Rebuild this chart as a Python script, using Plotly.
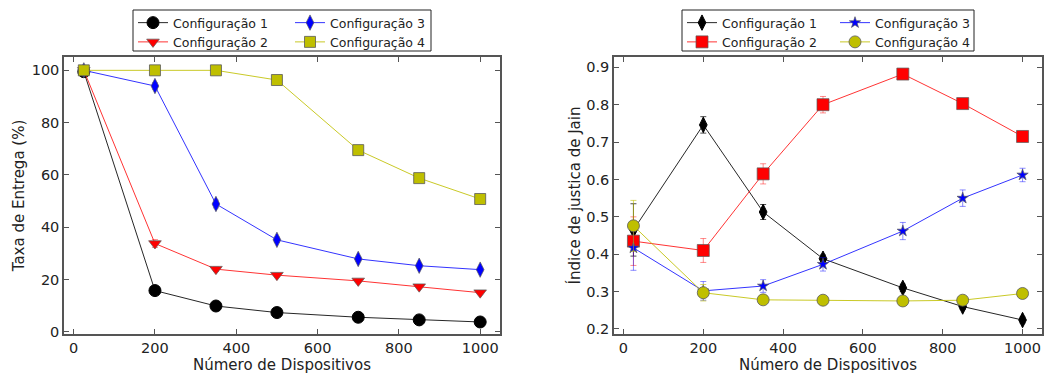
import plotly.graph_objects as go

# ---------------- data ----------------
devices = [25, 200, 350, 500, 700, 850, 1000]
series_names = ["Configuração 1", "Configuração 2", "Configuração 3", "Configuração 4"]

# Left: Taxa de Entrega (%)
taxa_c1 = [99.5, 15.8, 9.9, 7.4, 5.6, 4.6, 3.8]
taxa_c2 = [100.0, 33.8, 24.0, 21.7, 19.5, 17.3, 15.0]
taxa_c3 = [100.0, 94.0, 48.9, 35.2, 27.9, 25.3, 23.8]
taxa_c4 = [100.0, 100.0, 100.0, 96.3, 69.5, 58.8, 50.8]
taxa_err_c1 = [0.4, 0.6, 0.4, 0.3, 0.3, 0.2, 0.2]
taxa_err_c2 = [0.3, 1.5, 0.8, 0.6, 0.6, 0.5, 0.5]
taxa_err_c3 = [0.3, 1.2, 1.5, 1.0, 0.8, 0.7, 0.6]
taxa_err_c4 = [0.2, 0.2, 0.2, 0.5, 0.6, 0.5, 0.5]

# Right: Índice de justica de Jain
jain_c1 = [0.465, 0.746, 0.513, 0.388, 0.310, 0.260, 0.224]
jain_c2 = [0.435, 0.410, 0.615, 0.800, 0.882, 0.803, 0.715]
jain_c3 = [0.417, 0.302, 0.315, 0.373, 0.462, 0.550, 0.612]
jain_c4 = [0.476, 0.297, 0.278, 0.277, 0.275, 0.277, 0.295]
jain_err_c1 = [0.070, 0.022, 0.020, 0.010, 0.010, 0.008, 0.008]
jain_err_c2 = [0.065, 0.032, 0.027, 0.022, 0.008, 0.007, 0.008]
jain_err_c3 = [0.060, 0.025, 0.017, 0.018, 0.023, 0.022, 0.018]
jain_err_c4 = [0.068, 0.022, 0.010, 0.008, 0.006, 0.006, 0.006]

# ---------------- styles ----------------
W, H = 1052, 374
colors = ["#000000", "#FF0000", "#0000FF", "#BFBF00"]
line_colors = ["rgba(0,0,0,0.85)", "rgba(255,0,0,0.8)", "rgba(0,0,255,0.8)", "rgba(191,191,0,0.85)"]
err_colors = ["rgba(0,0,0,0.7)", "rgba(255,0,0,0.45)", "rgba(0,0,255,0.45)", "rgba(191,191,0,0.6)"]
edge_colors = ["#000000", "rgba(90,90,90,0.7)", "rgba(90,90,90,0.7)", "rgba(90,90,90,0.8)"]
FONT = "DejaVu Sans"

left_symbols = ["circle", "triangle-down", "diamond-tall", "square"]
left_sizes = [12, 11, 11, 11]
right_symbols = ["diamond-tall", "square", "star", "circle"]
right_sizes = [11, 12, 8.5, 12]

fig = go.Figure()

left_data = [(taxa_c1, taxa_err_c1), (taxa_c2, taxa_err_c2), (taxa_c3, taxa_err_c3), (taxa_c4, taxa_err_c4)]
right_data = [(jain_c1, jain_err_c1), (jain_c2, jain_err_c2), (jain_c3, jain_err_c3), (jain_c4, jain_err_c4)]

left_legends = ["legend", "legend", "legend2", "legend2"]
right_legends = ["legend3", "legend3", "legend4", "legend4"]

for i, (vals, errs) in enumerate(left_data):
    fig.add_trace(go.Scatter(
        x=devices, y=vals, name=series_names[i], mode="lines+markers",
        line=dict(color=line_colors[i], width=1),
        marker=dict(symbol=left_symbols[i], size=left_sizes[i], color=colors[i],
                    line=dict(color=edge_colors[i], width=1)),
        error_y=dict(type="data", array=errs, visible=True, color=err_colors[i], thickness=1, width=3),
        xaxis="x", yaxis="y", legend=left_legends[i],
    ))

for i, (vals, errs) in enumerate(right_data):
    fig.add_trace(go.Scatter(
        x=devices, y=vals, name=series_names[i], mode="lines+markers",
        line=dict(color=line_colors[i], width=1),
        marker=dict(symbol=right_symbols[i], size=right_sizes[i], color=colors[i],
                    line=dict(color=edge_colors[i], width=1)),
        error_y=dict(type="data", array=errs, visible=True, color=err_colors[i], thickness=1, width=3),
        xaxis="x2", yaxis="y2", legend=right_legends[i],
    ))

def px_x(p):
    return p / W

def px_y(p):
    return 1 - p / H

ydom = [px_y(334), px_y(57)]
axis_common = dict(
    showgrid=False, zeroline=False, showline=True, linecolor="#555555", linewidth=1.5,
    mirror="ticks", ticks="inside", ticklen=5, tickcolor="#555555", tickwidth=1,
    tickfont=dict(family=FONT, size=14.5, color="#222222"), automargin=False,
)
title_font = dict(family=FONT, size=15, color="#222222")

legend_common = dict(
    bgcolor="rgba(0,0,0,0)", borderwidth=0, font=dict(family=FONT, size=12.5, color="#222222"),
    xanchor="left", yanchor="top", y=px_y(8), tracegroupgap=0, orientation="v",
)

fig.update_layout(
    width=W, height=H, autosize=False, template="none",
    margin=dict(l=0, r=0, t=0, b=0, pad=0),
    paper_bgcolor="white", plot_bgcolor="white",
    xaxis=dict(domain=[px_x(64), px_x(500)], range=[-23.75, 1048.75], tickvals=[0, 200, 400, 600, 800, 1000],
               anchor="y", title=dict(text="Número de Dispositivos", font=title_font, standoff=4), **axis_common),
    yaxis=dict(domain=ydom, range=[-0.8, 105.1], tickvals=[0, 20, 40, 60, 80, 100], anchor="x",
               title=dict(text="Taxa de Entrega (%)", font=title_font, standoff=3), **axis_common),
    xaxis2=dict(domain=[px_x(614), px_x(1042)], range=[-23.75, 1048.75], tickvals=[0, 200, 400, 600, 800, 1000],
                anchor="y2", title=dict(text="Número de Dispositivos", font=title_font, standoff=4), **axis_common),
    yaxis2=dict(domain=ydom, range=[0.1866, 0.9276], tickvals=[0.2, 0.3, 0.4, 0.5, 0.6, 0.7, 0.8, 0.9],
                tickformat=".1f", anchor="x2",
                title=dict(text="Índice de justica de Jain", font=title_font, standoff=2), **axis_common),
    legend=dict(x=px_x(133), **legend_common),
    legend2=dict(x=px_x(290), **legend_common),
    legend3=dict(x=px_x(682), **legend_common),
    legend4=dict(x=px_x(835), **legend_common),
    shapes=[
        dict(type="rect", xref="paper", yref="paper", x0=px_x(133), x1=px_x(431), y0=px_y(51), y1=px_y(10),
             line=dict(color="#222222", width=1), fillcolor="rgba(0,0,0,0)"),
        dict(type="rect", xref="paper", yref="paper", x0=px_x(682), x1=px_x(974), y0=px_y(51), y1=px_y(10),
             line=dict(color="#222222", width=1), fillcolor="rgba(0,0,0,0)"),
    ],
)

fig.write_html("out.html")
